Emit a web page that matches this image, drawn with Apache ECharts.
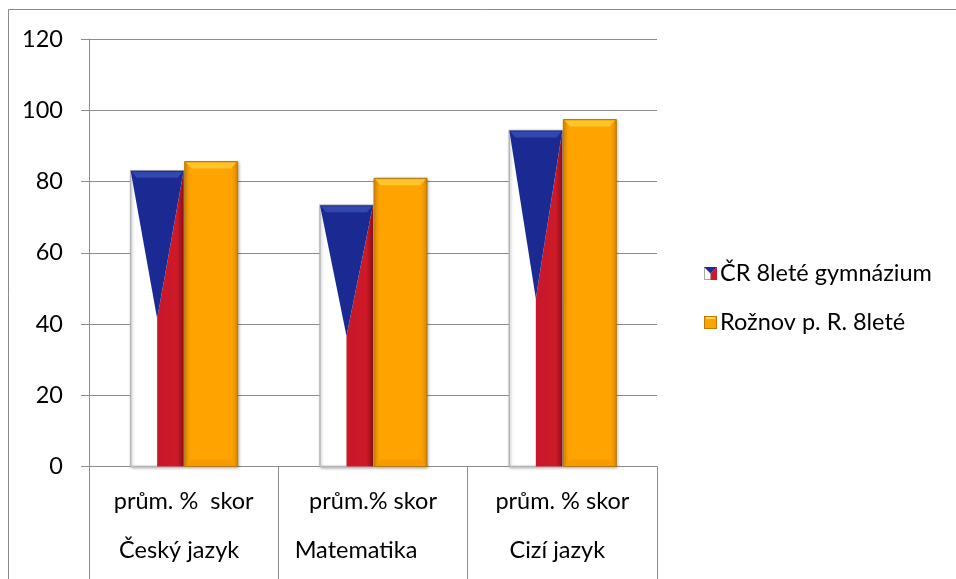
<!DOCTYPE html>
<html><head><meta charset="utf-8">
<script src="https://cdn.jsdelivr.net/npm/echarts@6/dist/echarts.min.js"></script>
<style>html,body{margin:0;padding:0;background:#fff}#c{width:956px;height:579px}</style>
</head><body><div id="c"></div>
<script>
const categories = ['prům. %  skor', 'prům.% skor', 'prům. % skor'];
const subjects = ['Český jazyk', 'Matematika', 'Cizí jazyk'];
const seriesNames = ['ČR 8leté gymnázium', 'Rožnov p. R. 8leté'];
const crValues = [83.0, 73.3, 94.3];
const roznovValues = [85.6, 80.9, 97.4];
const yTicks = [0, 20, 40, 60, 80, 100, 120];

const FONT = 'Lato, "Noto Sans", sans-serif';
const FS = 23.5;
const flagIcon = 'image://data:image/svg+xml;utf8,' + encodeURIComponent(
  '<svg xmlns="http://www.w3.org/2000/svg" width="13" height="13"><rect x="0.5" y="0.5" width="12" height="12" fill="#fff" stroke="#aaa"/><polygon points="6.5,6.5 13,0 13,13 6.5,13" fill="#c8182a"/><polygon points="0,0 13,0 6.5,6.5" fill="#1c2b94"/></svg>');
const orangeIcon = 'image://data:image/svg+xml;utf8,' + encodeURIComponent(
  '<svg xmlns="http://www.w3.org/2000/svg" width="13" height="13"><rect x="0.5" y="0.5" width="12" height="12" fill="#ffa200" stroke="#c07a00"/><rect x="2" y="1" width="9" height="2" fill="#ffd34a"/></svg>');

const chart = echarts.init(document.getElementById('c'), null, {renderer: 'canvas'});

function flagBar(params, api) {
  const idx = api.value(0), v = api.value(1);
  const top = api.coord([idx, v]);
  const bot = api.coord([idx, 0]);
  const bw = api.size([1, 0])[0];
  const w = bw * 0.28;
  const xr = top[0];
  const xl = xr - w;
  const xm = (xl + xr) / 2;
  const ym = (top[1] + bot[1]) / 2;
  return {
    type: 'group',
    children: [
      {type: 'rect', shape: {x: xl, y: top[1], width: w, height: bot[1] - top[1]},
       style: {fill: '#ffffff', stroke: '#b5b5b5', lineWidth: 1.5, shadowBlur: 3, shadowColor: 'rgba(0,0,0,0.25)', shadowOffsetX: 1, shadowOffsetY: 1}},
      {type: 'polygon', shape: {points: [[xm, ym], [xr, top[1]], [xr, bot[1]], [xm, bot[1]]]},
       style: {fill: new echarts.graphic.LinearGradient(0, 0, 1, 0, [
         {offset: 0, color: '#c8172a'}, {offset: 0.75, color: '#cd1a28'}, {offset: 1, color: '#8e0f18'}])}},
      {type: 'polygon', shape: {points: [[xl, top[1]], [xr, top[1]], [xm, ym]]},
       style: {fill: '#1b2a92'}},
      {type: 'polygon', shape: {points: [[xl + 1, top[1] + 1], [xr - 1, top[1] + 1], [xr - 6, top[1] + 7], [xl + 6, top[1] + 7]]},
       style: {fill: '#3347b0'}}
    ]
  };
}

function orangeBar(params, api) {
  const idx = api.value(0), v = api.value(1);
  const top = api.coord([idx, v]);
  const bot = api.coord([idx, 0]);
  const bw = api.size([1, 0])[0];
  const w = bw * 0.28;
  const xl = top[0] + 1;
  const xr = xl + w;
  const h = bot[1] - top[1];
  return {
    type: 'group',
    children: [
      {type: 'rect', shape: {x: xl, y: top[1], width: w, height: h},
       style: {fill: new echarts.graphic.LinearGradient(0, 0, 1, 0, [
         {offset: 0, color: '#e69200'}, {offset: 0.12, color: '#ffa300'}, {offset: 0.88, color: '#ffa300'}, {offset: 1, color: '#d98800'}]),
         stroke: '#b57a14', lineWidth: 1, shadowBlur: 3, shadowColor: 'rgba(0,0,0,0.3)', shadowOffsetX: 1, shadowOffsetY: 1}},
      {type: 'polygon', shape: {points: [[xl + 1, top[1] + 1], [xr - 1, top[1] + 1], [xr - 7, top[1] + 7], [xl + 7, top[1] + 7]]},
       style: {fill: '#ffc62a'}},
      {type: 'polygon', shape: {points: [[xl + 1, bot[1] - 1], [xr - 1, bot[1] - 1], [xr - 7, bot[1] - 7], [xl + 7, bot[1] - 7]]},
       style: {fill: '#f59a00'}}
    ]
  };
}

const subjPad = [[0, 9, 0, 0], [0, 34, 0, 0], [0, 10, 0, 0]];
const rich = {};
subjects.forEach((s, i) => { rich['s' + i] = {padding: subjPad[i], fontSize: FS, fontFamily: FONT, color: '#000'}; });

chart.setOption({
  animation: false,
  graphic: [{type: 'rect', shape: {x: 8.5, y: 9.5, width: 1000, height: 1000}, style: {fill: 'none', stroke: '#8a8a8a', lineWidth: 1}, silent: true}],
  grid: {left: 89, right: 299, top: 39, bottom: 112.5},
  legend: {
    orient: 'vertical', left: 699, top: 256, itemWidth: 13, itemHeight: 13, itemGap: 24,
    textStyle: {fontSize: FS, fontFamily: FONT, color: '#000', lineHeight: 25, padding: [0, 0, 0, -2]},
    data: [{name: seriesNames[0], icon: flagIcon}, {name: seriesNames[1], icon: orangeIcon}]
  },
  xAxis: [
    {type: 'category', data: categories, position: 'bottom',
     axisLine: {show: true, lineStyle: {color: '#8c8c8c', width: 1}},
     axisTick: {show: true, length: 113, interval: 0, lineStyle: {color: '#8c8c8c', width: 1}},
     axisLabel: {fontSize: FS, fontFamily: FONT, color: '#000', margin: 23, interval: 0}},
    {type: 'category', data: subjects, position: 'bottom', offset: 49,
     axisLine: {show: false}, axisTick: {show: false},
     axisLabel: {interval: 0, margin: 23, formatter: (v, i) => '{s' + i + '|' + v + '}', rich: rich}}
  ],
  yAxis: {
    type: 'value', min: yTicks[0], max: yTicks[yTicks.length - 1], interval: 20,
    axisLine: {show: true, lineStyle: {color: '#8c8c8c', width: 1}},
    axisTick: {show: true, length: 8, lineStyle: {color: '#8c8c8c'}},
    axisLabel: {fontSize: FS, fontFamily: FONT, color: '#000', margin: 26},
    splitLine: {lineStyle: {color: '#8c8c8c', width: 1}}
  },
  series: [
    {name: seriesNames[0], type: 'custom', renderItem: flagBar, xAxisIndex: 0,
     itemStyle: {color: '#1b2a92'},
     data: crValues.map((v, i) => [i, v])},
    {name: seriesNames[1], type: 'custom', renderItem: orangeBar, xAxisIndex: 0,
     itemStyle: {color: '#ffa200'},
     data: roznovValues.map((v, i) => [i, v])}
  ]
});
</script></body></html>
